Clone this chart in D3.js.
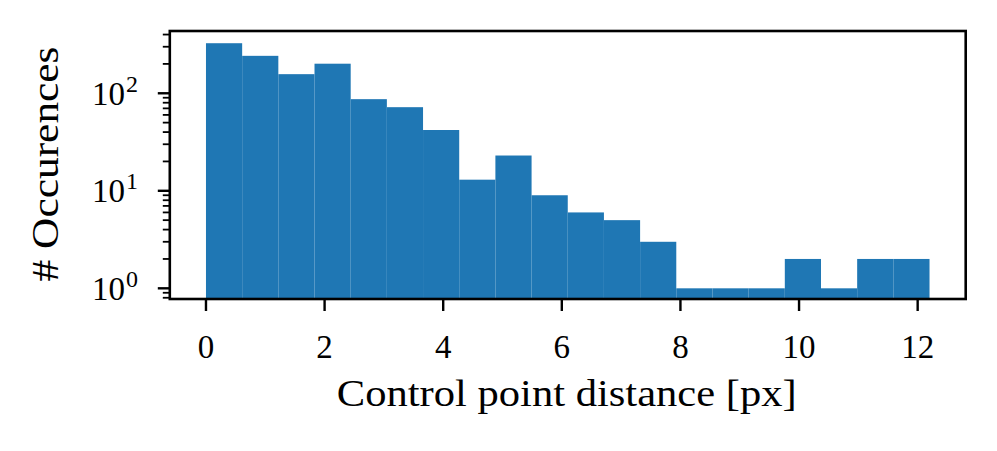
<!DOCTYPE html>
<html>
<head>
<meta charset="utf-8">
<script src="https://cdn.jsdelivr.net/npm/d3@7"></script>
<style>
  html, body { margin: 0; padding: 0; background: #fff; }
  svg { display: block; }
  text { font-family: "Liberation Serif", "Times New Roman", serif; fill: #000; }
</style>
</head>
<body>
<svg id="chart" width="997" height="451"></svg>
<script>
// ---- data ----
const binEdges = [0, 0.61, 1.22, 1.83, 2.44, 3.05, 3.66, 4.27, 4.88, 5.49, 6.10,
                  6.71, 7.32, 7.93, 8.54, 9.15, 9.76, 10.37, 10.98, 11.59, 12.2];
const counts = [326, 242, 157, 201, 87, 72, 42, 13, 23, 9, 6, 5, 3, 1, 1, 1, 2, 1, 2, 2];
const xTicks = [0, 2, 4, 6, 8, 10, 12];
const yMajorTicks = [1, 10, 100];
const yMajorExponents = ["0", "1", "2"];
const yMinorTicks = [0.8, 0.9, 2, 3, 4, 5, 6, 7, 8, 9, 20, 30, 40, 50, 60, 70, 80, 90, 200, 300, 400];
const xLabel = "Control point distance [px]";
const yLabel = "# Occurences";

// ---- layout ----
const mLeft = 169.8, mRight = 965.7, mTop = 31, mBottom = 299;
const svg = d3.select("#chart");
svg.append("rect").attr("width", 997).attr("height", 451).attr("fill", "#fff");

const x = d3.scaleLinear().domain([-0.61, 12.81]).range([mLeft, mRight]);
const y = d3.scaleLog().domain([0.777, 435]).range([mBottom, mTop]);

const bins = counts.map((c, i) => ({x0: binEdges[i], x1: binEdges[i + 1], c}));

svg.append("g").selectAll("rect").data(bins).join("rect")
  .attr("x", d => x(d.x0))
  .attr("width", d => x(d.x1) - x(d.x0))
  .attr("y", d => y(d.c))
  .attr("height", d => mBottom - y(d.c))
  .attr("fill", "#1f77b4");

// ---- x axis ----
const tickW = 2.4, minorW = 1.8, majLen = 12, minLen = 7;
const xg = svg.append("g");
xg.selectAll("line").data(xTicks).join("line")
  .attr("x1", d => x(d)).attr("x2", d => x(d))
  .attr("y1", mBottom).attr("y2", mBottom + majLen)
  .attr("stroke", "#000").attr("stroke-width", tickW);
xg.selectAll("text").data(xTicks).join("text")
  .attr("x", d => x(d)).attr("y", 357.5)
  .attr("text-anchor", "middle")
  .attr("font-size", 33)
  .text(d => d);

// ---- y axis ----
const yg = svg.append("g");
yg.selectAll("line.maj").data(yMajorTicks).join("line").attr("class", "maj")
  .attr("x1", mLeft - majLen).attr("x2", mLeft)
  .attr("y1", d => y(d)).attr("y2", d => y(d))
  .attr("stroke", "#000").attr("stroke-width", tickW);
yg.selectAll("line.min").data(yMinorTicks).join("line").attr("class", "min")
  .attr("x1", mLeft - minLen).attr("x2", mLeft)
  .attr("y1", d => y(d)).attr("y2", d => y(d))
  .attr("stroke", "#000").attr("stroke-width", minorW);
const yl = yg.selectAll("text").data(yMajorTicks).join("text")
  .attr("x", 138).attr("y", d => y(d) + 11.7)
  .attr("text-anchor", "end")
  .attr("font-size", 33);
yl.append("tspan").text("10");
yl.append("tspan").attr("dx", 1).attr("dy", -13).attr("font-size", 24).text((d, i) => yMajorExponents[i]);

// ---- frame ----
svg.append("rect")
  .attr("x", mLeft).attr("y", mTop)
  .attr("width", mRight - mLeft).attr("height", mBottom - mTop)
  .attr("fill", "none").attr("stroke", "#000").attr("stroke-width", 2.6);

// ---- labels ----
svg.append("text")
  .attr("x", (mLeft + mRight) / 2 - 1).attr("y", 406)
  .attr("text-anchor", "middle")
  .attr("font-size", 37)
  .attr("textLength", 460).attr("lengthAdjust", "spacingAndGlyphs")
  .text(xLabel);

svg.append("text")
  .attr("transform", `translate(58,164) rotate(-90)`)
  .attr("text-anchor", "middle")
  .attr("font-size", 37)
  .attr("textLength", 235).attr("lengthAdjust", "spacingAndGlyphs")
  .text(yLabel);
</script>
</body>
</html>
